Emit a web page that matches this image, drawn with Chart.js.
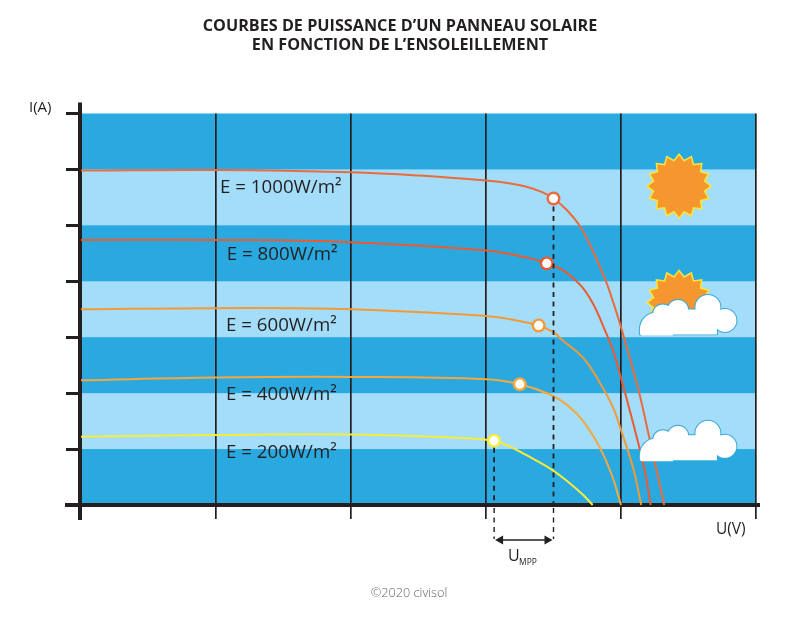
<!DOCTYPE html>
<html>
<head>
<meta charset="utf-8">
<title>Courbes de puissance</title>
<script src="https://cdn.jsdelivr.net/npm/chart.js@4"></script>
<style>
    html, body { margin: 0; padding: 0; background: #fff; }
    #wrap { width: 800px; height: 621px; }
</style>
</head>
<body>
<div id="wrap"><canvas id="chart" width="800" height="621"></canvas></div>
<script>
const titleLines = ['COURBES DE PUISSANCE D’UN PANNEAU SOLAIRE', 'EN FONCTION DE L’ENSOLEILLEMENT'];
const credit = '©2020 civisol';

// x in grid divisions of U(V), y in grid divisions of I(A)
const u1000 = [0, 1, 2, 2.51, 3, 3.18, 3.3, 3.42, 3.5, 3.6, 3.7, 3.79, 3.88, 3.94, 4, 4.13, 4.21, 4.32];
const i1000 = [5.98, 5.99, 5.95, 5.89, 5.8, 5.75, 5.69, 5.59, 5.48, 5.27, 4.97, 4.55, 4.05, 3.64, 3.18, 2.05, 1.2, 0];
const u800 = [0, 1, 2, 3, 3.33, 3.45, 3.57, 3.7, 3.79, 3.88, 3.94, 4, 4.09, 4.17, 4.22];
const i800 = [4.74, 4.74, 4.7, 4.55, 4.41, 4.32, 4.2, 3.93, 3.61, 3.13, 2.77, 2.27, 1.46, 0.68, 0];
const u600 = [0, 1, 2, 3, 3.18, 3.39, 3.5, 3.56, 3.72, 3.84, 3.94, 4, 4.09, 4.15];
const i600 = [3.5, 3.52, 3.5, 3.38, 3.32, 3.21, 3.09, 2.96, 2.63, 2.2, 1.75, 1.34, 0.66, 0];
const u400 = [0, 1, 2, 3, 3.25, 3.47, 3.6, 3.72, 3.84, 3.93, 4];
const i400 = [2.23, 2.28, 2.29, 2.25, 2.16, 1.98, 1.79, 1.5, 1.04, 0.55, 0];
const u200 = [0, 1, 2, 2.81, 3.06, 3.18, 3.3, 3.47, 3.6, 3.72, 3.79];
const i200 = [1.22, 1.25, 1.26, 1.2, 1.15, 1.04, 0.89, 0.66, 0.43, 0.18, 0];

const curveNames = ['E = 1000W/m²', 'E = 800W/m²', 'E = 600W/m²', 'E = 400W/m²', 'E = 200W/m²'];
const curveColors = ['#EA6B3E', '#EC5B30', '#F39A36', '#F4A83F', '#F6EC3C'];
const mppIndex = [8, 5, 5, 4, 4];

const nameX = [1.03, 1.08, 1.074, 1.074, 1.074];
const nameY = [5.68, 4.48, 3.2, 1.98, 0.93];
const bandsLight = [[5, 6], [3, 4], [1, 2]];

const sunSpots = [[4.43, 5.7], [4.43, 3.62]];
const cloudSpots = [[4.14, 3.05], [4.14, 0.8]];
const ink = '#231F20';

const datasets = [[u1000, i1000], [u800, i800], [u600, i600], [u400, i400], [u200, i200]].map((pair, k) => ({
    label: curveNames[k],
    data: pair[0].map((x, j) => ({ x: x, y: pair[1][j] })),
    borderColor: curveColors[k],
    backgroundColor: '#fff',
    borderWidth: 2,
    tension: 0.4,
    showLine: true,
    clip: false,
    pointRadius: ctx => ctx.dataIndex === mppIndex[k] ? 5.8 : 0,
    pointBorderWidth: 2.4,
    pointBorderColor: curveColors[k],
    pointBackgroundColor: '#fff'
}));

function drawSun(c, cx, cy) {
    const spikes = 16;
    c.beginPath();
    for (let i = 0; i < spikes * 2; i++) {
        const r = i % 2 ? 26 : 32;
        const a = -Math.PI / 2 + i * Math.PI / spikes;
        c.lineTo(cx + r * Math.cos(a), cy + r * Math.sin(a));
    }
    c.closePath();
    c.fillStyle = '#F6962E';
    c.strokeStyle = '#F8E537';
    c.lineWidth = 1.6;
    c.fill();
    c.stroke();
}

function cloudShape(c, x, y) {
    // union of circles, outlined first then filled over
    c.beginPath();
    [[17, -5, 17], [23, -20, 10], [38, -24, 10.5], [68, -27, 12.5], [85, -14, 11.5]].forEach(b => {
        c.moveTo(x + b[0] + b[2], y + b[1]);
        c.arc(x + b[0], y + b[1], b[2], 0, Math.PI * 2);
    });
    c.rect(x, y - 5, 75, 5);
    c.rect(x + 17, y - 25, 60, 25);
}

function drawCloud(c, x, y) {
    c.save();
    // flat base: cut the left circle off at the bottom of the cloud
    c.beginPath();
    c.rect(x - 3, y - 50, 110, 51);
    c.clip();
    c.strokeStyle = '#39A9DC';
    c.lineWidth = 2;
    cloudShape(c, x, y);
    c.stroke();
    c.fillStyle = '#fff';
    cloudShape(c, x, y);
    c.fill();
    c.restore();
}

function drawText(c, text, x, y, font, align, color) {
    c.font = font;
    c.textAlign = align || 'left';
    c.textBaseline = 'middle';
    c.fillStyle = color || ink;
    c.fillText(text, x, y);
}

const backdrop = {
    id: 'backdrop',
    beforeDraw(chart) {
        const c = chart.ctx, sy = chart.scales.y, a = chart.chartArea;
        c.save();
        c.fillStyle = '#29A9E0';
        c.fillRect(a.left, a.top, a.width, a.height);
        c.fillStyle = '#A4DDF9';
        bandsLight.forEach(b => {
            const top = sy.getPixelForValue(b[1]), bot = sy.getPixelForValue(b[0]);
            c.fillRect(a.left, top, a.width, bot - top);
        });
        c.restore();
    },
    beforeDatasetsDraw(chart) {
        const c = chart.ctx, sx = chart.scales.x, sy = chart.scales.y;
        c.save();
        // axis lines run past the plot area
        c.strokeStyle = ink;
        c.lineWidth = 4;
        c.beginPath();
        c.moveTo(sx.left - 1, sy.top - 11);
        c.lineTo(sx.left - 1, sy.bottom + 15);
        c.moveTo(sx.left - 16, sy.bottom);
        c.lineTo(sx.right + 4, sy.bottom);
        c.stroke();
        c.restore();
    },
    afterDatasetsDraw(chart) {
        const c = chart.ctx, sx = chart.scales.x, sy = chart.scales.y;
        c.save();
        sunSpots.forEach(s => drawSun(c, sx.getPixelForValue(s[0]), sy.getPixelForValue(s[1])));
        cloudSpots.forEach(s => drawCloud(c, sx.getPixelForValue(s[0]), sy.getPixelForValue(s[1])));

        curveNames.forEach((n, k) => {
            drawText(c, n, sx.getPixelForValue(nameX[k]), sy.getPixelForValue(nameY[k]), '18.7px "Open Sans"');
        });

        // dashed drop lines from the two outer MPP points
        const xa = sx.getPixelForValue(u200[mppIndex[4]]), xb = sx.getPixelForValue(u1000[mppIndex[0]]);
        const ya = sy.getPixelForValue(i200[mppIndex[4]]) + 7, yb = sy.getPixelForValue(i1000[mppIndex[0]]) + 8;
        c.strokeStyle = ink;
        c.lineWidth = 1.8;
        c.setLineDash([5, 4.5]);
        c.beginPath();
        c.moveTo(xa, ya); c.lineTo(xa, sy.bottom);
        c.moveTo(xb, yb); c.lineTo(xb, sy.bottom);
        c.stroke();
        c.lineWidth = 1.4;
        c.beginPath();
        c.moveTo(xa, sy.bottom + 3); c.lineTo(xa, sy.bottom + 34);
        c.moveTo(xb, sy.bottom + 3); c.lineTo(xb, sy.bottom + 34);
        c.stroke();
        c.setLineDash([]);

        // U_MPP arrow
        const ay = sy.bottom + 35;
        c.lineWidth = 1.4;
        c.beginPath();
        c.moveTo(xa + 4, ay); c.lineTo(xb - 4, ay);
        c.stroke();
        c.fillStyle = ink;
        c.beginPath();
        c.moveTo(xa + 1, ay); c.lineTo(xa + 9, ay - 4.5); c.lineTo(xa + 9, ay + 4.5); c.closePath();
        c.moveTo(xb - 1, ay); c.lineTo(xb - 9, ay - 4.5); c.lineTo(xb - 9, ay + 4.5); c.closePath();
        c.fill();

        drawText(c, 'U', 508, 556, '16px "Open Sans"');
        drawText(c, 'MPP', 519, 563, '8.5px "Open Sans"');
        drawText(c, 'I(A)', 29, 108, '15px "Open Sans"');
        drawText(c, 'U(V)', 716, 530, '15.5px "Open Sans"');
        drawText(c, credit, 409, 593, '300 12.7px "Open Sans"', 'center', '#666');
        c.restore();
    }
};

new Chart(document.getElementById('chart'), {
    type: 'scatter',
    data: { datasets: datasets },
    plugins: [backdrop],
    options: {
        responsive: false,
        animation: false,
        events: [],
        layout: { padding: { left: 0, right: 0, top: 0, bottom: 102 } },
        plugins: {
            legend: { display: false },
            tooltip: { enabled: false },
            title: {
                display: true,
                text: titleLines,
                color: ink,
                font: { family: '"Open Sans"', size: 16.2, weight: '700', lineHeight: '19px' },
                padding: { top: 17, bottom: 58.5 }
            }
        },
        scales: {
            x: {
                type: 'linear',
                min: 0,
                max: 5,
                afterFit: s => { s.height = 14; },
                ticks: { display: false, stepSize: 1 },
                border: { display: false },
                grid: { color: ink, lineWidth: 1.7, tickLength: 14 }
            },
            y: {
                type: 'linear',
                min: 0,
                max: 7,
                afterFit: s => { s.width = 81; },
                ticks: { display: false, stepSize: 1 },
                border: { display: false },
                grid: { color: ink, lineWidth: 3, tickLength: 15, drawOnChartArea: false }
            },
            // empty axis, only holds the right margin so the title stays centred on the page
            yMargin: {
                axis: 'y',
                position: 'right',
                min: 0,
                max: 7,
                afterFit: s => { s.width = 44; },
                ticks: { display: false },
                border: { display: false },
                grid: { display: false }
            }
        }
    }
});
</script>
</body>
</html>
